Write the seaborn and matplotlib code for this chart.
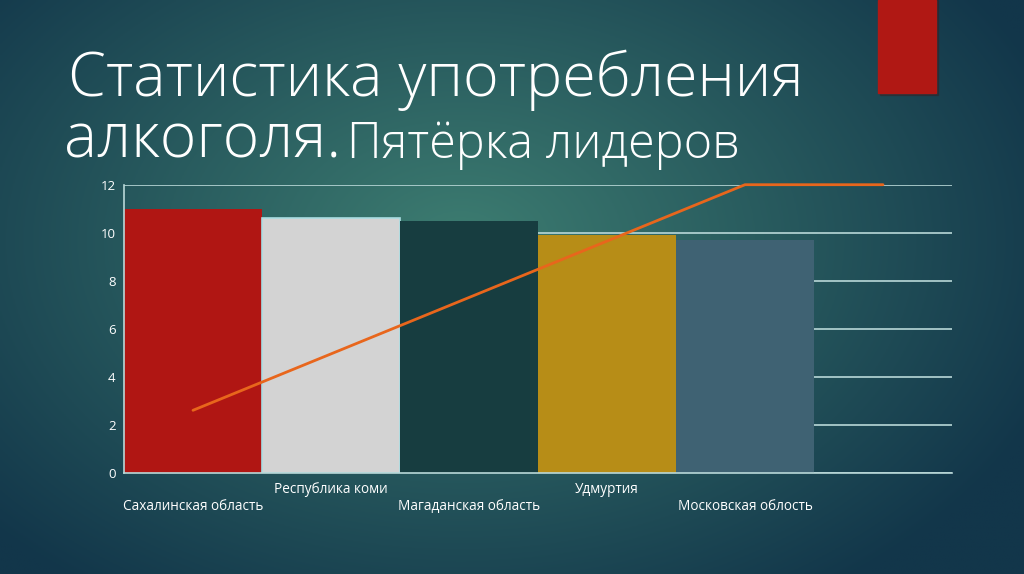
import numpy as np
import pandas as pd
import seaborn as sns
import matplotlib.pyplot as plt
from matplotlib.patches import Rectangle
from matplotlib.colors import to_rgb

# ---- data ----
regions = ["Сахалинская область", "Республика коми", "Магаданская область",
           "Удмуртия", "Московская облость"]
values = [11.0, 10.6, 10.5, 9.9, 9.7]
bar_colors = ["#b01613", "#d3d3d3", "#173d40", "#b78d17", "#3f6273"]
line_x = [0, 1, 2, 3, 4, 5]
line_y = [2.6, 4.95, 7.3, 9.65, 12.0, 12.0]
yticks = [0, 2, 4, 6, 8, 10, 12]

sns.set_theme(style="white")
plt.rcParams['font.family'] = ['Open Sans', 'DejaVu Sans']

fig = plt.figure(figsize=(10.24, 5.74), dpi=100)

# background gradient
bg = fig.add_axes([0, 0, 1, 1])
bg.set_axis_off()
xx, yy = np.meshgrid(np.linspace(0, 1, 400), np.linspace(0, 1, 240))
d = np.sqrt(((xx - 0.45) / 0.62) ** 2 + ((yy - 0.42) / 0.75) ** 2)
d = np.clip(d, 0, 1)
c_in = np.array(to_rgb("#3d7d71"))
c_out = np.array(to_rgb("#12364a"))
img = c_in[None, None, :] * (1 - d[..., None]) + c_out[None, None, :] * d[..., None]
bg.imshow(img, aspect="auto", extent=[0, 1, 0, 1], origin="upper")
bg.set_xlim(0, 1)
bg.set_ylim(0, 1)

# red accent block
fig.patches.append(Rectangle((880 / 1024, 1 - 95 / 574), 58 / 1024, 95 / 574,
                             transform=fig.transFigure, color="#3a1a1a", alpha=0.35, zorder=1))
fig.patches.append(Rectangle((878 / 1024, 1 - 93 / 574), 58 / 1024, 93 / 574,
                             transform=fig.transFigure, color="#b01814", zorder=2))

# title
fig.text(68 / 1024, 1 - 96 / 574, "Статистика употребления", color="white",
         fontsize=44, fontweight="light", va="baseline", ha="left")
fig.text(64 / 1024, 1 - 158 / 574, "алкоголя.", color="white",
         fontsize=45, fontweight="light", va="baseline", ha="left")
fig.text(347 / 1024, 1 - 158 / 574, "Пятёрка лидеров", color="white",
         fontsize=35, fontweight="light", va="baseline", ha="left")

# chart
ax = fig.add_axes([124 / 1024, 1 - 472.7 / 574, 828 / 1024, 288 / 574])
ax.patch.set_alpha(0)
df = pd.DataFrame({"region": regions, "value": values})
sns.barplot(data=df, x="region", y="value", hue="region", palette=bar_colors,
            width=1.0, legend=False, ax=ax, zorder=3, saturation=1,
            linewidth=0, edgecolor="none")
# light outline on the grey bar
ax.patches[1].set_edgecolor("#a9dde2")
ax.patches[1].set_linewidth(1.2)
sns.lineplot(x=line_x, y=line_y, color="#e8661c", linewidth=2, ax=ax, zorder=6)
for ln in ax.lines:
    ln.set_clip_on(False)

ax.set_xlim(-0.5, 5.5)
ax.set_ylim(0, 12)
ax.set_yticks(yticks)
ax.yaxis.grid(True, color="#b9d8d8", linewidth=1.2, zorder=0)
ax.set_axisbelow(True)
for s in ["top", "right"]:
    ax.spines[s].set_visible(False)
for s in ["left", "bottom"]:
    ax.spines[s].set_color("#b9d8d8")
    ax.spines[s].set_linewidth(1.2)
    ax.spines[s].set_zorder(5)
ax.set_xlabel("")
ax.set_ylabel("")
ax.tick_params(axis="both", length=0, colors="white", labelsize=9.5)
ax.tick_params(axis="y", pad=6)
ax.set_xticks(range(len(regions)))
ax.set_xticklabels(regions, color="white", fontsize=9.8)
for i, tick in enumerate(ax.xaxis.get_major_ticks()):
    tick.set_pad(19 if i % 2 == 0 else 7)

fig.savefig("out.png", dpi=100)
